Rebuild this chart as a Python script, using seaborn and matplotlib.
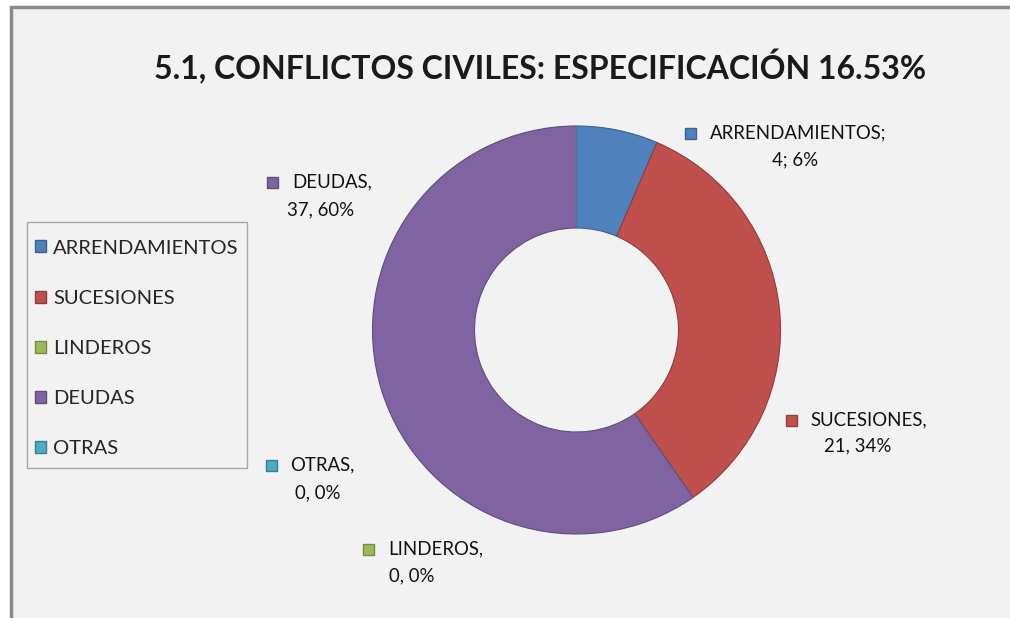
import matplotlib
matplotlib.use("Agg")
import matplotlib.pyplot as plt
import matplotlib.colors as mcolors
from matplotlib.patches import Patch, Rectangle
import seaborn as sns

sns.set_theme(style="white")
plt.rcParams['font.family'] = ['Lato', 'DejaVu Sans']

# chart data
categories = ["ARRENDAMIENTOS", "SUCESIONES", "LINDEROS", "DEUDAS", "OTRAS"]
counts = [4, 21, 0, 37, 0]
percent_labels = ["6%", "34%", "0%", "60%", "0%"]
separators = [";", ",", ",", ",", ","]
colors = ["#4F81BD", "#C0504D", "#9BBB59", "#8064A2", "#4BACC6"]
title = "5.1, CONFLICTOS CIVILES: ESPECIFICACIÓN 16.53%"

W, H = 1010, 618
BG = "#f2f2f2"


def fx(x):
    return x / W


def fy(y):
    return 1 - y / H


def darker(c, f=0.75):
    r, g, b = mcolors.to_rgb(c)
    return (r * f, g * f, b * f)


fig = plt.figure(figsize=(W / 100, H / 100), dpi=100, facecolor="white")

# chart area with grey border on top and left
fig.patches.append(Rectangle((fx(11), -0.1), 1.2, fy(7) + 0.1, transform=fig.transFigure,
                             facecolor=BG, edgecolor="#8a8a8a", linewidth=2.5, zorder=-5))

# donut
cx, cy, r = 576.5, 330, 204
ax = fig.add_axes([fx(cx - r), fy(cy + r), 2 * r / W, 2 * r / H])
ax.set_facecolor("none")
ax.set_zorder(2)
wedges, _ = ax.pie(counts, colors=colors, startangle=90, counterclock=False,
                   radius=1, wedgeprops=dict(width=0.5, linewidth=0.8))
for w, c in zip(wedges, colors):
    w.set_edgecolor(darker(c))
ax.set_xlim(-1, 1)
ax.set_ylim(-1, 1)
ax.set_aspect("equal")
ax.axis("off")

# title
fig.text(fx(540), fy(67), title, ha="center", va="center", fontsize=23,
         fontweight="bold", color="#1a1a1a")

# data labels: marker position, text start, second-line center (pixels)
label_pos = {
    "ARRENDAMIENTOS": (690, 133, 710, 795, 160),
    "SUCESIONES": (791, 420, 810, 858, 446),
    "LINDEROS": (368, 549, 388, 412, 576),
    "DEUDAS": (272, 182, 292, 321, 210),
    "OTRAS": (271, 465, 290, 318, 493),
}
for cat, n, pct, sep, col in zip(categories, counts, percent_labels, separators, colors):
    mx, my, tx, lx, ly = label_pos[cat]
    fig.patches.append(Rectangle((fx(mx - 5.5), fy(my + 5.5)), 11 / W, 11 / H,
                                 transform=fig.transFigure, facecolor=col,
                                 edgecolor=darker(col), linewidth=1))
    fig.text(fx(tx), fy(my), cat + sep, ha="left", va="center", fontsize=13.4,
             color="#111111")
    fig.text(fx(lx), fy(ly), f"{n}{sep} {pct}", ha="center", va="center",
             fontsize=13.4, color="#111111")

# legend box drawn separately so it matches the original frame
fig.patches.append(Rectangle((fx(27), fy(468)), 220 / W, 246 / H,
                             transform=fig.transFigure, facecolor=BG,
                             edgecolor="#a6a6a6", linewidth=1, zorder=1))
handles = [Patch(facecolor=c, edgecolor=darker(c), linewidth=1) for c in colors]
leg = fig.legend(handles, categories, loc="upper left",
                 bbox_to_anchor=(fx(35), fy(239.5)), frameon=False,
                 fontsize=14.5, labelspacing=1.65, handlelength=0.55,
                 handleheight=0.55, handletextpad=0.35, borderpad=0,
                 borderaxespad=0)
leg.set_zorder(3)

fig.savefig("out.png", dpi=100, facecolor=fig.get_facecolor())
